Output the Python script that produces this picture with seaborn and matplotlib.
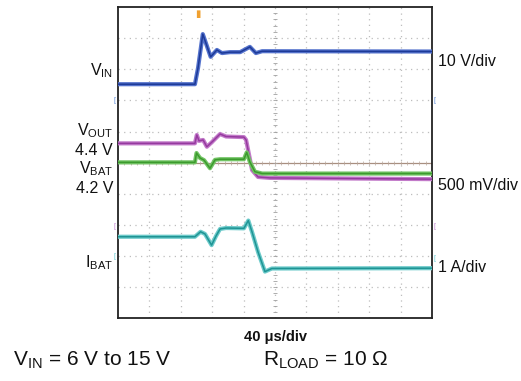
import numpy as np
import pandas as pd
import matplotlib
matplotlib.use("Agg")
import matplotlib.pyplot as plt
import seaborn as sns

# ---- data (time in divisions, level in divisions) ----
vin_t = [0.00, 2.45, 2.55, 2.70, 2.95, 3.15, 3.31, 3.57, 3.89, 4.20, 4.39, 4.59, 10.00]
vin_v = [7.52, 7.52, 8.05, 9.13, 8.40, 8.62, 8.52, 8.55, 8.55, 8.72, 8.52, 8.58, 8.57]

vout_t = [0.00, 2.45, 2.51, 2.58, 2.71, 2.83, 2.99, 3.25, 3.44, 4.01, 4.08, 4.27, 4.46, 4.84, 10.00]
vout_v = [5.62, 5.62, 5.89, 5.70, 5.73, 5.51, 5.66, 5.92, 5.84, 5.82, 5.73, 4.76, 4.54, 4.51, 4.47]

vbat_t = [0.00, 2.45, 2.50, 2.61, 2.74, 2.93, 3.09, 3.25, 4.01, 4.10, 4.20, 4.36, 4.59, 10.00]
vbat_v = [5.01, 5.01, 5.31, 5.15, 5.08, 4.82, 5.09, 5.11, 5.11, 5.33, 5.02, 4.71, 4.65, 4.65]

ibat_t = [0.00, 2.45, 2.63, 2.77, 2.98, 3.12, 3.25, 3.44, 4.01, 4.15, 4.27, 4.46, 4.68, 4.90, 10.00]
ibat_v = [2.62, 2.62, 2.78, 2.71, 2.35, 2.64, 2.87, 2.90, 2.89, 3.14, 2.77, 2.13, 1.50, 1.60, 1.61]

trace_names = ["VIN", "VOUT", "VBAT", "IBAT"]
left_labels = [r"V$_{\mathregular{IN}}$", r"V$_{\mathregular{OUT}}$", "4.4 V",
               r"V$_{\mathregular{BAT}}$", "4.2 V", r"I$_{\mathregular{BAT}}$"]
right_labels = ["10 V/div", "500 mV/div", "1 A/div"]
x_label = "40 \u03bcs/div"
foot_left = "V$_{\\mathregular{IN}}$ = 6 V to 15 V"
foot_right = "R$_{\\mathregular{LOAD}}$ = 10 \u03a9"

df = pd.concat([
    pd.DataFrame({"t": vin_t, "v": vin_v, "trace": "VIN"}),
    pd.DataFrame({"t": vout_t, "v": vout_v, "trace": "VOUT"}),
    pd.DataFrame({"t": vbat_t, "v": vbat_v, "trace": "VBAT"}),
    pd.DataFrame({"t": ibat_t, "v": ibat_v, "trace": "IBAT"}),
], ignore_index=True)

# ---- style ----
sns.set_style("white")
plt.rcParams["font.family"] = ["Liberation Sans", "DejaVu Sans"]
plt.rcParams["mathtext.fontset"] = "custom"
plt.rcParams["mathtext.rm"] = "Liberation Sans"

W, H = 521, 381
fx = lambda x: x / W
fy = lambda y: 1 - y / H

fig = plt.figure(figsize=(W / 100, H / 100), dpi=100)
ax = fig.add_axes([fx(118), fy(318.3), 314 / W, 311.3 / H])
ax.set_xlim(0, 10)
ax.set_ylim(0, 10)

# graticule
for k in range(1, 10):
    ax.axvline(k, color="#bdbdbd", lw=0.9, ls=(0, (1, 3.5)), zorder=1)
    if k != 5:
        ax.axhline(k, color="#bdbdbd", lw=0.9, ls=(0, (1, 3.5)), zorder=1)
ax.axhline(5, color="#a88f80", lw=0.9, zorder=1)
minor = np.arange(0.2, 10, 0.2)
ax.plot(np.full_like(minor, 5), minor, ls="none", marker="_", ms=3.5, mew=0.6, color="#a0a0a0", zorder=1)
ax.plot(minor, np.full_like(minor, 5), ls="none", marker="|", ms=3, mew=0.5, color="#b8a89c", zorder=1)

ax.set_xticks([])
ax.set_yticks([])
for s in ax.spines.values():
    s.set_color("#222222")
    s.set_linewidth(1.3)

colors = {
    "VIN": ("#5472cc", "#1d3a98"),
    "VOUT": ("#c27ac9", "#963a9f"),
    "VBAT": ("#72c464", "#3c9a2e"),
    "IBAT": ("#6ccaca", "#1f9494"),
}
order = ["VIN", "VOUT", "VBAT", "IBAT"]
for i, name in enumerate(order):
    sub = df[df.trace == name]
    env, core = colors[name]
    sns.lineplot(data=sub, x="t", y="v", ax=ax, color=env, lw=3.0, sort=False,
                 estimator=None, legend=False, zorder=3 + i)
    sns.lineplot(data=sub, x="t", y="v", ax=ax, color=core, lw=1.1, sort=False,
                 estimator=None, legend=False, zorder=3 + i)
ax.set_xlabel("")
ax.set_ylabel("")

# trigger / ground markers
fig.text(fx(198.3), fy(17.5), "\u25ae", color="#f0a030", fontsize=7, ha="center", va="baseline")
for (x, y, c) in [(114, 100, "#5a8ad8"), (114, 226.7, "#c080d0"), (114, 257, "#60c8d0"),
                  (434, 100, "#5a8ad8"), (434, 227, "#c080d0"), (434, 258, "#60c8d0")]:
    fig.text(fx(x), fy(y), "[", color=c, fontsize=5, ha="center", va="center")

# labels
fs = 11.5
lab_pos = [(113, 75), (113, 135), (113, 155), (113, 173), (113, 193), (113, 267)]
for txt, (x, y) in zip(left_labels, lab_pos):
    fig.text(fx(x), fy(y), txt, ha="right", va="baseline", fontsize=fs, color="#111111")
for txt, y in zip(right_labels, [66.5, 190, 272]):
    fig.text(fx(438), fy(y), txt, ha="left", va="baseline", fontsize=fs, color="#111111")
fig.text(fx(275), fy(341), x_label, ha="center", va="baseline", fontsize=10.5,
         fontweight="bold", color="#111111")
fig.text(fx(13), fy(365), foot_left, ha="left", va="baseline", fontsize=15, color="#111111")
fig.text(fx(263), fy(365), foot_right, ha="left", va="baseline", fontsize=15, color="#111111")

fig.savefig("out.png", dpi=100)
